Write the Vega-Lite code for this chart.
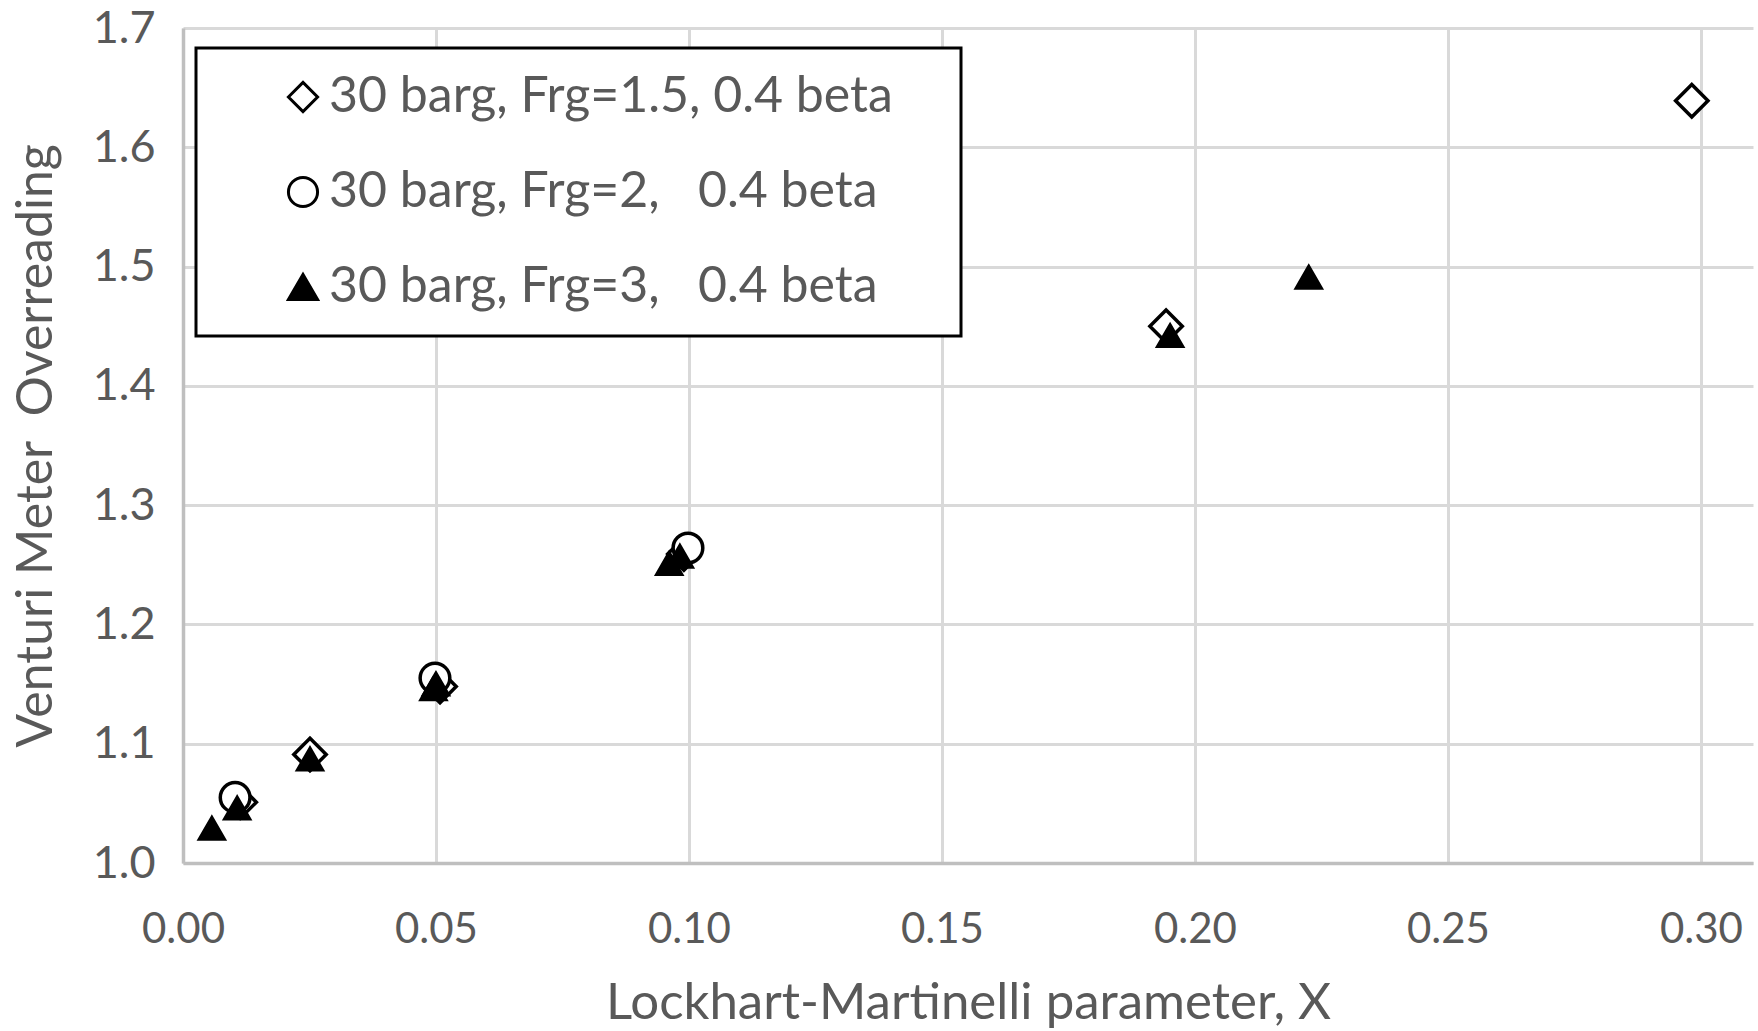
{
  "$schema": "https://vega.github.io/schema/vega-lite/v6.json",
  "width": 1570,
  "height": 835,
  "autosize": {"type": "none"},
  "padding": {"left": 183, "top": 28, "right": 5, "bottom": 168},
  "background": "white",
  "config": {
    "view": {"stroke": null},
    "font": "Lato",
    "legend": {
      "strokeWidth": 3,
      "orient": "none",
      "legendX": 13,
      "legendY": 20,
      "padding": 24,
      "rowPadding": 45,
      "symbolOffset": 58,
      "labelOffset": 1,
      "symbolSize": 850,
      "symbolStrokeWidth": 3,
      "labelFont": "Lato",
      "labelFontSize": 50,
      "labelColor": "#595959",
      "labelLimit": 1000,
      "titleOrient": "right",
      "titlePadding": 44,
      "titleFontSize": 10,
      "strokeColor": "black",
      "fillColor": "white"
    }
  },
  "data": {
    "values": [
      {"s": "30 barg, Frg=1.5, 0.4 beta", "x": 0.0113, "y": 1.051},
      {"s": "30 barg, Frg=1.5, 0.4 beta", "x": 0.0251, "y": 1.091},
      {"s": "30 barg, Frg=1.5, 0.4 beta", "x": 0.0508, "y": 1.148},
      {"s": "30 barg, Frg=1.5, 0.4 beta", "x": 0.0990, "y": 1.259},
      {"s": "30 barg, Frg=1.5, 0.4 beta", "x": 0.1943, "y": 1.450},
      {"s": "30 barg, Frg=1.5, 0.4 beta", "x": 0.2982, "y": 1.639},
      {"s": "30 barg, Frg=2,\u00a0\u00a0\u00a00.4 beta", "x": 0.0103, "y": 1.055},
      {"s": "30 barg, Frg=2,\u00a0\u00a0\u00a00.4 beta", "x": 0.0498, "y": 1.155},
      {"s": "30 barg, Frg=2,\u00a0\u00a0\u00a00.4 beta", "x": 0.0998, "y": 1.264},
      {"s": "30 barg, Frg=3,\u00a0\u00a0\u00a00.4 beta", "x": 0.0057, "y": 1.029},
      {"s": "30 barg, Frg=3,\u00a0\u00a0\u00a00.4 beta", "x": 0.0107, "y": 1.046},
      {"s": "30 barg, Frg=3,\u00a0\u00a0\u00a00.4 beta", "x": 0.0251, "y": 1.087},
      {"s": "30 barg, Frg=3,\u00a0\u00a0\u00a00.4 beta", "x": 0.0495, "y": 1.146},
      {"s": "30 barg, Frg=3,\u00a0\u00a0\u00a00.4 beta", "x": 0.0500, "y": 1.150},
      {"s": "30 barg, Frg=3,\u00a0\u00a0\u00a00.4 beta", "x": 0.0961, "y": 1.251},
      {"s": "30 barg, Frg=3,\u00a0\u00a0\u00a00.4 beta", "x": 0.0982, "y": 1.257},
      {"s": "30 barg, Frg=3,\u00a0\u00a0\u00a00.4 beta", "x": 0.1951, "y": 1.442},
      {"s": "30 barg, Frg=3,\u00a0\u00a0\u00a00.4 beta", "x": 0.2225, "y": 1.491}
    ]
  },
  "mark": {"type": "point", "filled": true, "strokeWidth": 3.5, "opacity": 1},
  "encoding": {
    "x": {
      "field": "x", "type": "quantitative",
      "scale": {"domain": [0, 0.3103], "nice": false, "zero": false},
      "axis": {
        "title": "Lockhart-Martinelli parameter, X",
        "values": [0, 0.05, 0.1, 0.15, 0.2, 0.25, 0.3],
        "format": ".2f",
        "labelFont": "Lato", "labelFontSize": 42, "labelColor": "#595959",
        "labelPadding": 46, "ticks": false, "tickSize": 0,
        "labelFlush": false, "labelOverlap": false,
        "titleFont": "Lato", "titleFontSize": 51, "titleFontWeight": "normal", "titleColor": "#595959",
        "titlePadding": 28,
        "grid": true, "gridColor": "#d9d9d9", "gridWidth": 3,
        "domainColor": "#bfbfbf", "domainWidth": 3.5
      }
    },
    "y": {
      "field": "y", "type": "quantitative",
      "scale": {"domain": [1.0, 1.7], "nice": false, "zero": false},
      "axis": {
        "title": "Venturi Meter\u00a0\u00a0Overreading",
        "values": [1.0, 1.1, 1.2, 1.3, 1.4, 1.5, 1.6, 1.7],
        "format": ".1f",
        "labelFont": "Lato", "labelFontSize": 45, "labelColor": "#595959",
        "labelPadding": 28, "ticks": false, "tickSize": 0,
        "labelFlush": false, "labelOverlap": false,
        "titleFont": "Lato", "titleFontSize": 50, "titleFontWeight": "normal", "titleColor": "#595959",
        "titlePadding": 31,
        "grid": true, "gridColor": "#d9d9d9", "gridWidth": 3,
        "domainColor": "#bfbfbf", "domainWidth": 3.5
      }
    },
    "shape": {
      "field": "s", "type": "nominal",
      "scale": {
        "domain": ["30 barg, Frg=1.5, 0.4 beta", "30 barg, Frg=2,\u00a0\u00a0\u00a00.4 beta", "30 barg, Frg=3,\u00a0\u00a0\u00a00.4 beta"],
        "range": ["diamond", "circle", "triangle-up"]
      },
      "legend": {"title": "\u00a0"}
    },
    "fill": {
      "field": "s", "type": "nominal",
      "scale": {
        "domain": ["30 barg, Frg=1.5, 0.4 beta", "30 barg, Frg=2,\u00a0\u00a0\u00a00.4 beta", "30 barg, Frg=3,\u00a0\u00a0\u00a00.4 beta"],
        "range": ["white", "white", "black"]
      },
      "legend": {"title": "\u00a0"}
    },
    "stroke": {
      "field": "s", "type": "nominal",
      "scale": {
        "domain": ["30 barg, Frg=1.5, 0.4 beta", "30 barg, Frg=2,\u00a0\u00a0\u00a00.4 beta", "30 barg, Frg=3,\u00a0\u00a0\u00a00.4 beta"],
        "range": ["black", "black", "black"]
      },
      "legend": {"title": "\u00a0"}
    },
    "size": {
      "condition": [
        {"test": {"field": "s", "equal": "30 barg, Frg=1.5, 0.4 beta"}, "value": 1050},
        {"test": {"field": "s", "equal": "30 barg, Frg=2,\u00a0\u00a0\u00a00.4 beta"}, "value": 880}
      ],
      "value": 600
    }
  }
}
